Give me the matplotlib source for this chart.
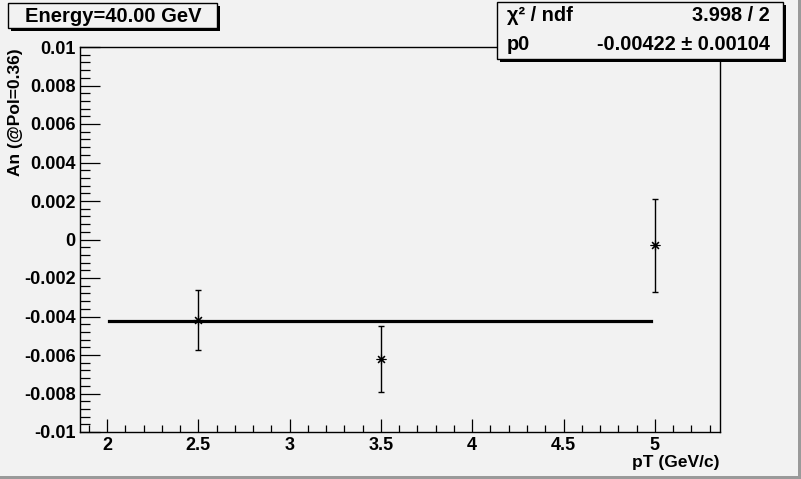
import matplotlib
matplotlib.use("Agg")
import matplotlib.pyplot as plt
from matplotlib.patches import Rectangle
from matplotlib.ticker import MultipleLocator, FuncFormatter

W, H = 801, 479

# measured points (pT, An, error)
PT = [2.5, 3.5, 5.0]
AN = [-0.00417, -0.0062, -0.00031]
AN_ERR = [0.00156, 0.0017, 0.0024]

# constant fit p0
P0 = -0.00422
FIT_RANGE = [2.01, 4.98]

TITLE = "Energy=40.00 GeV"
STATS = [("χ² / ndf", "3.998 / 2"), ("p0", "-0.00422 ± 0.00104")]

BG = "#f2f2f2"
FONT = "Liberation Sans"

plt.rcParams["font.family"] = [FONT, "DejaVu Sans"]
plt.rcParams["font.weight"] = "bold"
plt.rcParams["axes.unicode_minus"] = False
plt.rcParams["xtick.labelsize"] = 13
plt.rcParams["ytick.labelsize"] = 13


def fmt(v, _pos):
    v = round(v, 6)
    if abs(v) < 1e-12:
        return "0"
    return f"{v:g}"


def build():
    fig = plt.figure(figsize=(W / 100, H / 100), dpi=100)
    fig.patch.set_facecolor(BG)

    # plot frame in pixels: x 80..720, y 47..432
    ax = fig.add_axes([80 / W, (H - 432) / H, 640 / W, 385 / H])
    ax.set_facecolor(BG)
    ax.set_xlim(1.852, 5.357)
    ax.set_ylim(-0.01, 0.01)

    ax.errorbar(PT, AN, yerr=AN_ERR, fmt="none", ecolor="black",
                elinewidth=1.0, capsize=2.5, capthick=1.0, zorder=3)
    ax.plot(PT, AN, linestyle="none", marker=(8, 2, 0), markersize=7,
            markeredgewidth=0.8, color="black", zorder=4)
    ax.plot(FIT_RANGE, [P0, P0], color="black", linewidth=2.3, zorder=2)

    ax.xaxis.set_major_locator(MultipleLocator(0.5))
    ax.xaxis.set_minor_locator(MultipleLocator(0.1))
    ax.yaxis.set_major_locator(MultipleLocator(0.002))
    ax.yaxis.set_minor_locator(MultipleLocator(0.0004))
    ax.xaxis.set_major_formatter(FuncFormatter(fmt))
    ax.yaxis.set_major_formatter(FuncFormatter(fmt))

    ax.tick_params(axis="both", which="both", direction="in", color="black",
                   width=0.9)
    ax.tick_params(axis="x", which="major", length=9.4, pad=3.5)
    ax.tick_params(axis="x", which="minor", length=4.7)
    ax.tick_params(axis="y", which="major", length=14.4, pad=3)
    ax.tick_params(axis="y", which="minor", length=7.2)
    for sp in ax.spines.values():
        sp.set_linewidth(1.0)

    # overlay in pixel coordinates for boxes and titles
    ov = fig.add_axes([0, 0, 1, 1], zorder=10)
    ov.set_xlim(0, W)
    ov.set_ylim(H, 0)
    ov.axis("off")
    ov.patch.set_visible(False)

    def box(x0, y0, x1, y1):
        ov.add_patch(Rectangle((x0 + 3, y0 + 3), x1 - x0, y1 - y0,
                               facecolor="black", edgecolor="none"))
        ov.add_patch(Rectangle((x0, y0), x1 - x0, y1 - y0,
                               facecolor=BG, edgecolor="black", linewidth=1.0))

    box(8, 3, 217, 28)
    ov.text(113, 16, TITLE, ha="center", va="center", fontsize=14.5,
            fontweight="bold")

    box(497, 2, 783, 59)
    for (name, val), y in zip(STATS, [15, 44]):
        ov.text(507, y, name, ha="left", va="center", fontsize=14.3,
                fontweight="bold")
        ov.text(770, y, val, ha="right", va="center", fontsize=14.3,
                fontweight="bold")

    ov.text(16, 48, "An (@Pol=0.36)", rotation=90, ha="center", va="top",
            fontsize=12.5, fontweight="bold")
    ov.text(720, 462, "pT (GeV/c)", ha="right", va="center", fontsize=12.5,
            fontweight="bold")

    # canvas bevel
    ov.add_patch(Rectangle((0, 476), W, 3, facecolor="#9a9a9a", edgecolor="none"))
    ov.add_patch(Rectangle((798, 0), 3, H, facecolor="#9a9a9a", edgecolor="none"))

    fig.savefig("out.png", dpi=100, facecolor=BG)
    plt.close(fig)


if __name__ == "__main__":
    build()
